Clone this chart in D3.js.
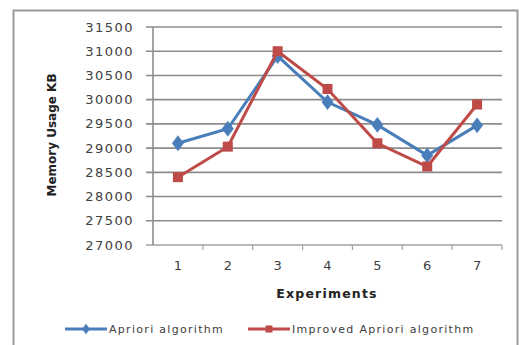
<!DOCTYPE html>
<html>
<head>
<meta charset="utf-8">
<script src="https://cdn.jsdelivr.net/npm/d3@7"></script>
<style>
  body { margin: 0; background: #fff; }
  text { font-family: "DejaVu Sans", sans-serif; fill: #404040; }
</style>
</head>
<body>
<div id="chart"></div>
<script>
// Memory usage of Apriori vs improved Apriori

const width = 522, height = 345;
const margin = { top: 27, right: 20, bottom: 100, left: 153 };

const experiments = [1, 2, 3, 4, 5, 6, 7];
const apriori = [29100, 29400, 30900, 29950, 29480, 28850, 29470];
const improved = [28400, 29030, 31000, 30220, 29100, 28620, 29900];
const yTicks = [27000, 27500, 28000, 28500, 29000, 29500, 30000, 30500, 31000, 31500];

const series = [
  { name: "Apriori algorithm", values: apriori, color: "#4a7ebb", marker: "diamond" },
  { name: "Improved Apriori algorithm", values: improved, color: "#be4b48", marker: "square" }
];

const svg = d3.select("#chart")
  .append("svg")
  .attr("width", width)
  .attr("height", height);

// outer chart border
svg.append("rect")
  .attr("x", 13.5)
  .attr("y", 10.5)
  .attr("width", 504)
  .attr("height", 345)
  .attr("fill", "none")
  .attr("stroke", "#9a9a9a")
  .attr("stroke-width", 2);

const x = d3.scaleBand()
  .domain(experiments)
  .range([margin.left, width - margin.right]);

const y = d3.scaleLinear()
  .domain([27000, 31500])
  .range([245, margin.top]);

// gridlines
svg.append("g")
  .selectAll("line")
  .data(yTicks)
  .join("line")
  .attr("x1", margin.left - 7)
  .attr("x2", width - margin.right)
  .attr("y1", d => y(d))
  .attr("y2", d => y(d))
  .attr("stroke", d => d === 27000 ? "#a0a0a0" : "#8c8c8c")
  .attr("stroke-width", 1.6);

// y axis line
svg.append("line")
  .attr("x1", margin.left)
  .attr("x2", margin.left)
  .attr("y1", y(31500))
  .attr("y2", y(27000))
  .attr("stroke", "#8c8c8c")
  .attr("stroke-width", 1.6);

// x tick marks at band edges
svg.append("g")
  .selectAll("line")
  .data(experiments)
  .join("line")
  .attr("x1", d => x(d) + x.bandwidth())
  .attr("x2", d => x(d) + x.bandwidth())
  .attr("y1", y(27000))
  .attr("y2", y(27000) + 5)
  .attr("stroke", "#a0a0a0")
  .attr("stroke-width", 1.2);

// y tick labels
svg.append("g")
  .selectAll("text")
  .data(yTicks)
  .join("text")
  .attr("x", 134)
  .attr("y", d => y(d))
  .attr("dy", "0.35em")
  .attr("text-anchor", "end")
  .attr("font-size", 13)
  .attr("letter-spacing", 1.5)
  .text(d => d);

// x tick labels
svg.append("g")
  .selectAll("text")
  .data(experiments)
  .join("text")
  .attr("x", d => x(d) + x.bandwidth() / 2)
  .attr("y", 265)
  .attr("dy", "0.35em")
  .attr("text-anchor", "middle")
  .attr("font-size", 13)
  .text(d => d);

// axis titles
svg.append("text")
  .attr("transform", "translate(52,135) rotate(-90)")
  .attr("text-anchor", "middle")
  .attr("dy", "0.35em")
  .attr("font-size", 12)
  .style("font-weight", "bold")
  .style("fill", "#222")
  .text("Memory Usage KB");

svg.append("text")
  .attr("x", 327)
  .attr("y", 294)
  .attr("dy", "0.35em")
  .attr("text-anchor", "middle")
  .attr("font-size", 12.5)
  .attr("letter-spacing", 1.2)
  .style("font-weight", "bold")
  .style("fill", "#222")
  .text("Experiments");

const line = d3.line()
  .x((d, i) => x(experiments[i]) + x.bandwidth() / 2)
  .y(d => y(d));

function drawMarker(g, type, color, size) {
  if (type === "square") {
    g.append("rect")
      .attr("x", -size / 2)
      .attr("y", -size / 2)
      .attr("width", size)
      .attr("height", size)
      .attr("fill", color);
  } else {
    g.append("path")
      .attr("d", d3.symbol(d3.symbolDiamond, size * size * 0.9)())
      .attr("fill", color)
      .attr("transform", "scale(1.3,1)");
  }
}

for (const s of series) {
  svg.append("path")
    .datum(s.values)
    .attr("d", line)
    .attr("fill", "none")
    .attr("stroke", s.color)
    .attr("stroke-width", 3);

  svg.append("g")
    .selectAll("g")
    .data(s.values)
    .join("g")
    .attr("transform", (d, i) => `translate(${x(experiments[i]) + x.bandwidth() / 2},${y(d)})`)
    .each(function() {
      drawMarker(d3.select(this), s.marker, s.color, s.marker === "square" ? 10 : 9);
    });
}

// legend
const legendPos = [65, 248];
series.forEach((s, i) => {
  const g = svg.append("g")
    .attr("transform", `translate(${legendPos[i]},329)`);
  g.append("line")
    .attr("x1", 0)
    .attr("x2", 42)
    .attr("stroke", s.color)
    .attr("stroke-width", 3);
  drawMarker(g.append("g").attr("transform", "translate(21,0)"), s.marker, s.color, s.marker === "square" ? 7 : 6);
  g.append("text")
    .attr("x", 44)
    .attr("dy", "0.35em")
    .attr("font-size", 11)
    .attr("letter-spacing", 1.3)
    .text(s.name);
});
</script>
</body>
</html>
